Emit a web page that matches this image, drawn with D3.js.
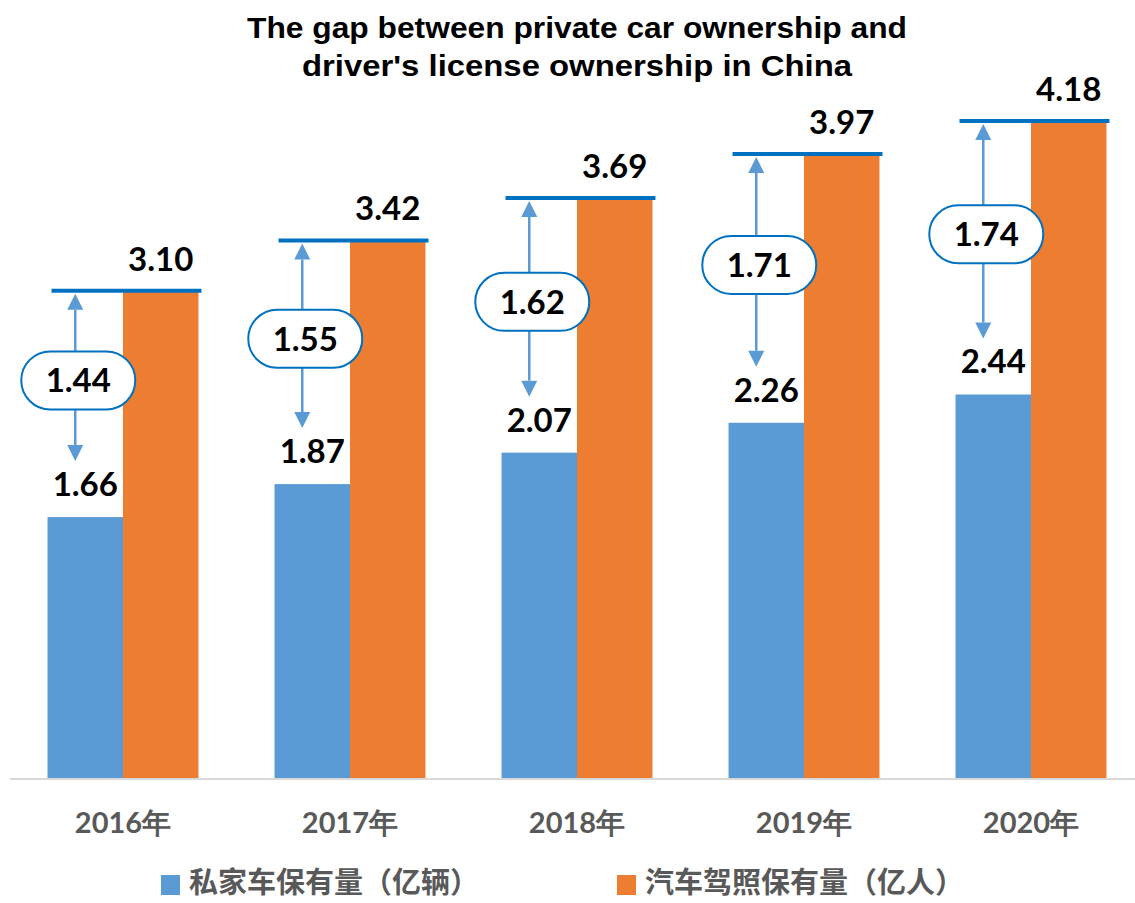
<!DOCTYPE html>
<html>
<head>
<meta charset="utf-8">
<script src="https://cdn.jsdelivr.net/npm/d3@7/dist/d3.min.js"></script>
<style>
  html, body { margin: 0; padding: 0; background: #fff; }
  svg { display: block; }
</style>
</head>
<body>
<svg id="chart" width="1135" height="903"></svg>
<script>
// ---- data ----
const categories = ["2016年", "2017年", "2018年", "2019年", "2020年"];
const privateCars = [1.66, 1.87, 2.07, 2.26, 2.44];      // 私家车保有量（亿辆）
const licenses = [3.10, 3.42, 3.69, 3.97, 4.18];          // 汽车驾照保有量（亿人）
const gaps = [1.44, 1.55, 1.62, 1.71, 1.74];
const seriesNames = ["私家车保有量（亿辆）", "汽车驾照保有量（亿人）"];
const titleLines = ["The gap between private car ownership and", "driver's license ownership in China"];

const colors = { blue: "#5B9BD5", orange: "#ED7D31", line: "#0070C0", axis: "#D9D9D9", label: "#595959" };
const numFont = "Lato, 'Open Sans', sans-serif";
const cjkFont = "'Noto Sans CJK SC', 'Noto Sans', sans-serif";

const svg = d3.select("#chart");

const x0 = d3.scaleBand().domain(categories).range([9.5, 1144.5]).paddingInner(0.335).paddingOuter(0.1675);
const x1 = d3.scaleBand().domain([0, 1]).range([0, x0.bandwidth()]);
const y = d3.scaleLinear().domain([0, 4.18]).range([778, 121]);

// title
const titleWidths = [660, 550];
svg.append("g").selectAll("text").data(titleLines).join("text")
  .attr("x", 577).attr("y", (d, i) => 38 + i * 38)
  .attr("text-anchor", "middle")
  .attr("font-family", "'Liberation Sans', Arial, sans-serif")
  .attr("font-weight", "bold").attr("font-size", 29)
  .attr("textLength", (d, i) => titleWidths[i]).attr("lengthAdjust", "spacingAndGlyphs")
  .attr("fill", "#000").text(d => d);

const rows = categories.map((c, i) => ({ c, a: privateCars[i], b: licenses[i], g: gaps[i] }));

// bars
const g = svg.append("g");
g.selectAll("rect.blue").data(rows).join("rect")
  .attr("x", d => x0(d.c) + x1(0)).attr("y", d => y(d.a))
  .attr("width", x1.bandwidth()).attr("height", d => y(0) - y(d.a))
  .attr("fill", colors.blue);
g.selectAll("rect.orange").data(rows).join("rect")
  .attr("x", d => x0(d.c) + x1(1)).attr("y", d => y(d.b))
  .attr("width", x1.bandwidth()).attr("height", d => y(0) - y(d.b))
  .attr("fill", colors.orange);

// axis baseline
svg.append("line").attr("x1", 10).attr("x2", 1135).attr("y1", y(0) + 1).attr("y2", y(0) + 1)
  .attr("stroke", colors.axis).attr("stroke-width", 2);

// x axis labels
const xAxis = d3.axisBottom(x0).tickSize(0).tickPadding(0);
const ax = svg.append("g").attr("transform", `translate(0,${y(0)})`).call(xAxis);
ax.select(".domain").remove();
ax.selectAll("text")
  .attr("y", 55).attr("dy", 0)
  .attr("font-family", numFont).attr("font-weight", "bold").attr("font-size", 29)
  .attr("fill", colors.label);

// top reference lines
g.selectAll("line.top").data(rows).join("line")
  .attr("x1", d => x0(d.c) + 4).attr("x2", d => x0(d.c) + x0.bandwidth() + 3)
  .attr("y1", d => y(d.b)).attr("y2", d => y(d.b))
  .attr("stroke", colors.line).attr("stroke-width", 4);

// value labels
g.selectAll("text.va").data(rows).join("text")
  .attr("x", d => x0(d.c) + x1(0) + x1.bandwidth() / 2).attr("y", d => y(d.a) - 21)
  .attr("text-anchor", "middle").attr("font-family", numFont).attr("font-weight", "bold")
  .attr("font-size", 33).attr("fill", "#000").text(d => d.a.toFixed(2));
g.selectAll("text.vb").data(rows).join("text")
  .attr("x", d => x0(d.c) + x1(1) + x1.bandwidth() / 2).attr("y", d => y(d.b) - 20)
  .attr("text-anchor", "middle").attr("font-family", numFont).attr("font-weight", "bold")
  .attr("font-size", 33).attr("fill", "#000").text(d => d.b.toFixed(2));

// arrows + pills
const ag = svg.append("g");
rows.forEach(d => {
  const ax = x0(d.c) + x1(0) + x1.bandwidth() / 2 - 10;
  const top = y(d.b) + 3;
  const bot = y(d.a) - 56;
  const mid = (top + bot) / 2 + 3;
  const hh = 16, hw = 8;
  ag.append("line").attr("x1", ax).attr("x2", ax).attr("y1", top + hh).attr("y2", bot - hh)
    .attr("stroke", colors.blue).attr("stroke-width", 2.5);
  ag.append("path").attr("d", `M${ax},${top} L${ax - hw},${top + hh} L${ax + hw},${top + hh} Z`).attr("fill", colors.blue);
  ag.append("path").attr("d", `M${ax},${bot} L${ax - hw},${bot - hh} L${ax + hw},${bot - hh} Z`).attr("fill", colors.blue);
  const pw = 114, ph = 58;
  ag.append("rect").attr("x", ax + 3 - pw / 2).attr("y", mid - ph / 2).attr("width", pw).attr("height", ph)
    .attr("rx", ph / 2).attr("ry", ph / 2)
    .attr("fill", "#fff").attr("stroke", colors.line).attr("stroke-width", 2);
  ag.append("text").attr("x", ax + 3).attr("y", mid + 12).attr("text-anchor", "middle")
    .attr("font-family", numFont).attr("font-weight", "bold").attr("font-size", 33)
    .attr("fill", "#000").text(d.g.toFixed(2));
});

// legend
const legendX = [161, 617];
const lg = svg.append("g");
seriesNames.forEach((n, i) => {
  lg.append("rect").attr("x", legendX[i]).attr("y", 875).attr("width", 19).attr("height", 20)
    .attr("fill", i === 0 ? colors.blue : colors.orange);
  lg.append("text").attr("x", legendX[i] + 28).attr("y", 893)
    .attr("font-family", cjkFont).attr("font-weight", "bold").attr("font-size", 29)
    .attr("fill", colors.label).text(n);
});
</script>
</body>
</html>
